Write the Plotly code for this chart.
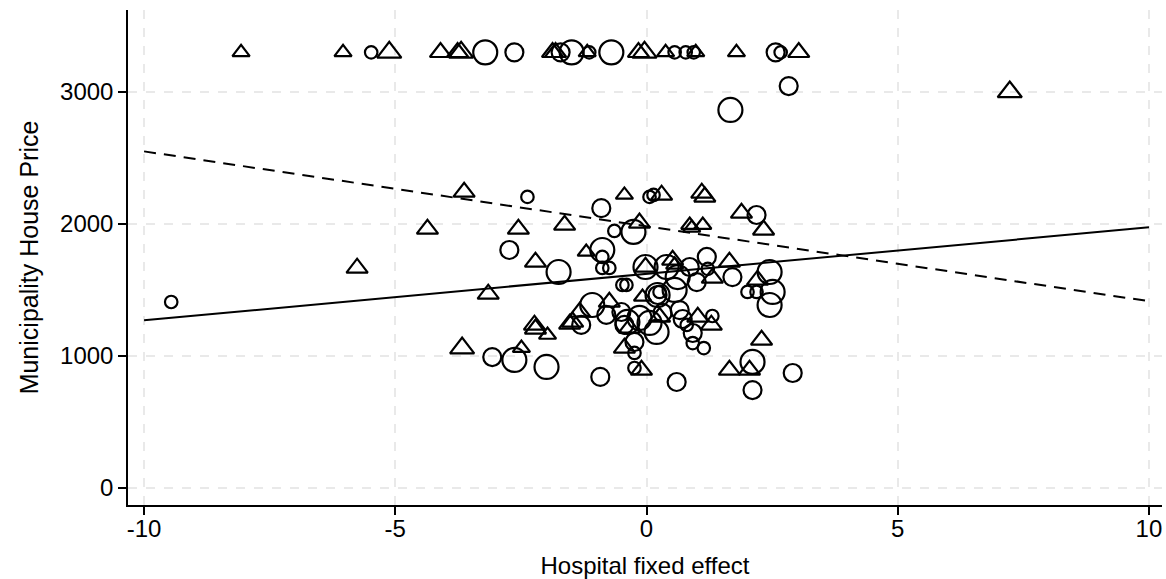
import plotly.graph_objects as go

# ---- data ----
# circles group: hospital fixed effect, municipality house price, weight class
circ_x = [-5.48, -3.21, -2.63, -1.71, -1.49, -1.14, -0.70, 0.56, 0.78, 0.94, 2.57, 2.67,
          2.83, 1.67,
          -9.46, -2.37, -2.73, -1.75, -3.07, -2.63, -1.99,
          -0.90, 0.14, 0.06, 2.19, -0.64, -0.26, -0.88, -0.88, -0.88, -0.74,
          -0.02, 0.40, 0.86, 1.20, 1.22, 0.62, 1.00, 1.71, 2.45,
          2.01, 2.19, 2.51, 2.45,
          -0.48, -0.40, 0.22, 0.22, 0.26, 0.56,
          -1.08, -0.80, -1.30, -0.50, -0.38, -0.44, -0.14, 0.06, 0.20, 0.32, 0.66, 0.80, 0.72, 0.92, 1.31,
          -0.24, -0.24, 0.92, 1.14, 2.11, 2.91, 2.11, -0.92, -0.24, 0.60]
circ_y = [3300, 3300, 3300, 3300, 3300, 3300, 3300, 3300, 3300, 3300, 3300, 3300,
          3045, 2864,
          1409, 2205, 1803, 1636, 992, 970, 917,
          2120, 2220, 2205, 2068, 1947, 1940, 1803, 1750, 1667, 1667,
          1674, 1674, 1674, 1750, 1660, 1598, 1560, 1598, 1636,
          1485, 1485, 1485, 1386,
          1538, 1538, 1462, 1462, 1485, 1500,
          1386, 1311, 1235, 1333, 1258, 1235, 1288, 1250, 1182, 1326, 1348, 1235, 1280, 1174, 1303,
          1106, 1023, 1098, 1060, 955, 871, 742, 841, 909, 803]
circ_w = [1, 3, 2, 2, 3, 1, 3, 1, 1, 1, 2, 1,
          2, 3,
          1, 1, 2, 3, 2, 3, 3,
          2, 1, 1, 2, 1, 3, 3, 1, 1, 1,
          3, 3, 2, 2, 1, 3, 2, 2, 3,
          1, 1, 3, 3,
          1, 1, 3, 2, 1, 3,
          3, 2, 2, 2, 3, 2, 3, 3, 3, 2, 2, 1, 2, 2, 1,
          2, 1, 1, 1, 3, 2, 2, 2, 1, 2]

# triangles group
tri_x = [-8.07, -6.04, -5.12, -4.10, -3.76, -3.69, -1.87, -1.81, -1.18, -0.16, -0.04, 0.38, 0.98, 1.79, 3.03,
         7.23,
         -5.76, -4.36, -3.63, -2.55, -1.63, -2.21, -3.15, -1.20, -2.23, -2.21, -1.97, -1.53, -1.33, -3.67, -2.49,
         -0.44, 0.30, 1.10, 1.16, 1.89, 2.33, -0.14, 0.86, 0.90, 1.12, -0.02, 0.52, 0.56, 1.65, 1.31, 2.21,
         -0.74, -0.08, 0.26, 1.02, 1.29, -0.44, -0.10, 2.29, 1.65, 2.05, -0.34, -1.47]
tri_y = [3300, 3300, 3300, 3300, 3300, 3300, 3300, 3300, 3300, 3300, 3300, 3300, 3300, 3300, 3300,
         3000,
         1667, 1962, 2242, 1962, 1992, 1712, 1470, 1788, 1235, 1205, 1159, 1242, 1333, 1060, 1060,
         2220, 2220, 2235, 2205, 2083, 1955, 2008, 1992, 1970, 1992, 1674, 1727, 1690, 1712, 1591, 1576,
         1409, 1447, 1295, 1295, 1235, 1060, 894, 1121, 894, 894, 1212, 1258]
tri_w = [1, 1, 3, 2, 2, 3, 2, 2, 1, 2, 3, 1, 1, 1, 2,
         3,
         2, 2, 2, 2, 2, 2, 2, 1, 2, 2, 1, 2, 2, 3, 1,
         1, 2, 2, 2, 2, 2, 2, 1, 1, 1, 2, 2, 1, 2, 2, 2,
         2, 1, 2, 2, 2, 2, 2, 2, 2, 2, 2, 2]

# fitted lines: intercept, slope (over hospital fixed effect)
fit_circ = [1622.5, 35.25]     # solid
fit_tri = [1982.5, -56.75]     # dashed
fit_range = [-10, 10]

x_ticks = [-10, -5, 0, 5, 10]
y_ticks = [0, 1000, 2000, 3000]

# ---- styling ----
circ_size = {1: 12.5, 2: 18, 3: 24}
tri_size = {1: 15, 2: 18.5, 3: 21}
font = "Liberation Sans, Arial, sans-serif"

fig = go.Figure()
fig.add_trace(go.Scatter(
    x=circ_x, y=circ_y, mode="markers",
    marker=dict(symbol="circle-open", size=[circ_size[w] for w in circ_w], opacity=1,
                color="black", line=dict(color="black", width=2.2)),
    showlegend=False))
fig.add_trace(go.Scatter(
    x=tri_x, y=tri_y, mode="markers",
    marker=dict(symbol="triangle-up-open", size=[tri_size[w] for w in tri_w], opacity=1,
                color="black", line=dict(color="black", width=2.2)),
    showlegend=False))
fig.add_trace(go.Scatter(
    x=fit_range, y=[fit_circ[0] + fit_circ[1] * v for v in fit_range],
    mode="lines", line=dict(color="black", width=2), showlegend=False))
fig.add_trace(go.Scatter(
    x=fit_range, y=[fit_tri[0] + fit_tri[1] * v for v in fit_range],
    mode="lines", line=dict(color="black", width=2, dash="12px,8px"), showlegend=False))

fig.update_layout(
    width=1166, height=579,
    margin=dict(l=128, r=4, t=10, b=74),
    paper_bgcolor="white", plot_bgcolor="white",
    font=dict(family=font, size=24, color="black"),
    xaxis=dict(range=[-10.32, 10.26], tickvals=x_ticks, ticktext=[str(v) for v in x_ticks],
               showline=True, linecolor="black", linewidth=1.5,
               ticks="outside", ticklen=8, tickwidth=1.5, tickcolor="black",
               ticklabelstandoff=-7, ticklabeloverflow="allow",
               showgrid=True, gridcolor="#e9e9e9", gridwidth=1.5, griddash="dash",
               zeroline=False,
               title=dict(text="Hospital fixed effect", font=dict(size=24), standoff=18),
               tickfont=dict(size=24)),
    yaxis=dict(range=[-129, 3621], tickvals=y_ticks, ticktext=[str(v) for v in y_ticks],
               showline=True, linecolor="black", linewidth=1.5,
               ticks="outside", ticklen=8, tickwidth=1.5, tickcolor="black",
               showgrid=True, gridcolor="#e9e9e9", gridwidth=1.5, griddash="dash",
               zeroline=False,
               title=dict(text="Municipality House Price", font=dict(size=25), standoff=14),
               tickfont=dict(size=24)),
)

# remove the page's default body margin so the 1166x579 figure fills the window exactly
fig.write_html("out.html", config={"displayModeBar": False},
               post_script="document.body.style.margin='0';document.body.style.overflow='hidden';")
